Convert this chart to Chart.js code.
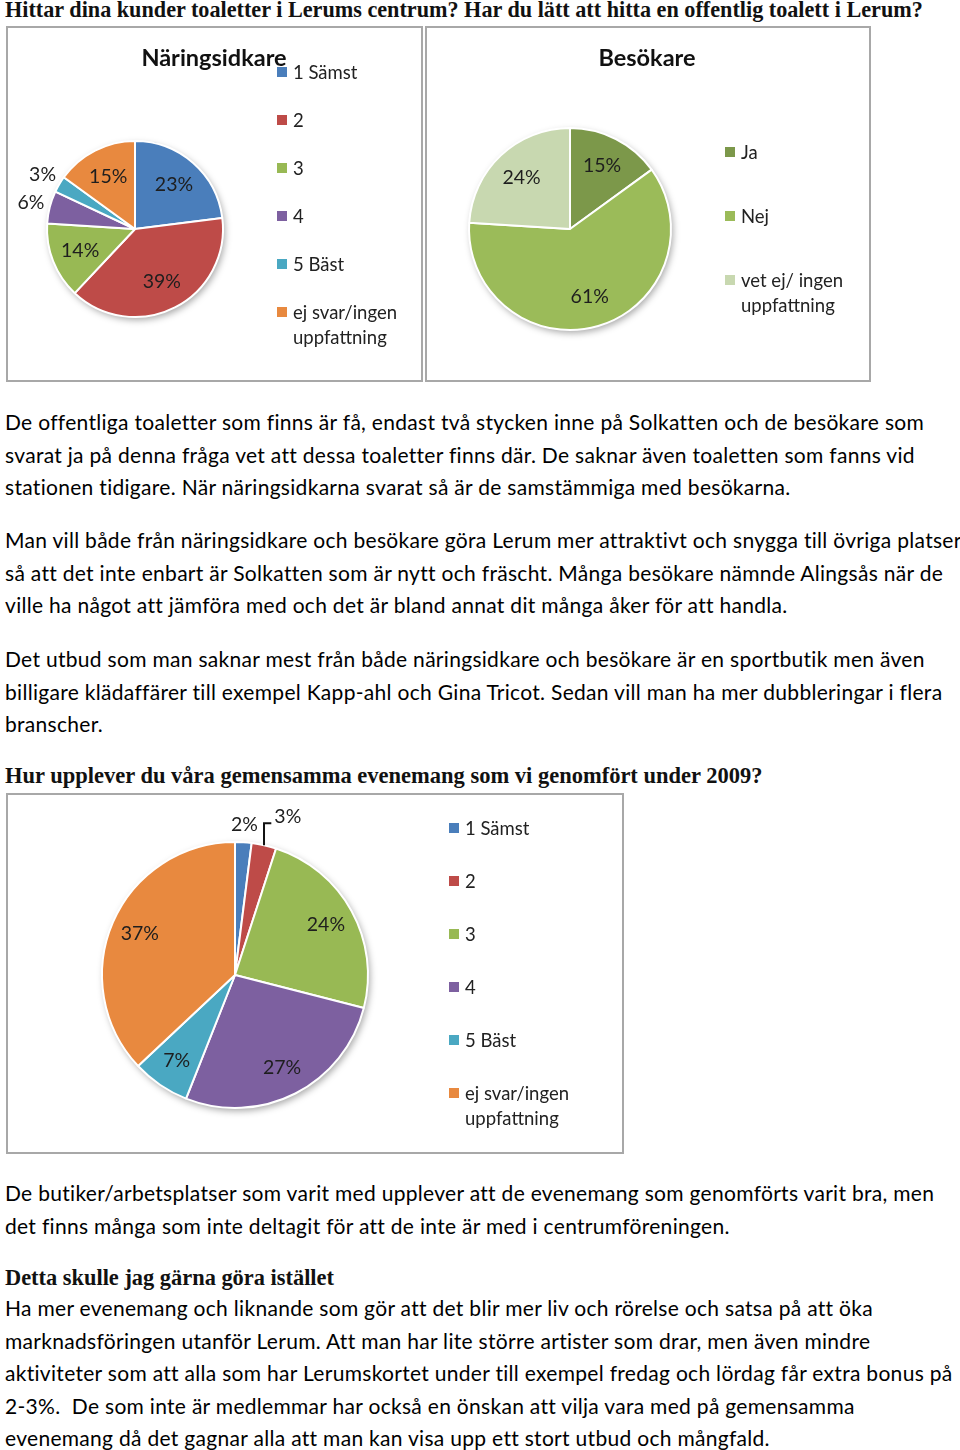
<!DOCTYPE html>
<html>
<head>
<meta charset="utf-8">
<script src="https://cdn.jsdelivr.net/npm/chart.js@4/dist/chart.umd.min.js"></script>
<style>
html,body{margin:0;padding:0;background:#fff;}
body{width:960px;height:1450px;position:relative;overflow:hidden;font-family:Lato,"Noto Sans",sans-serif;color:#000;}
.txt{position:absolute;left:5px;font-size:21px;letter-spacing:0.3px;line-height:32.5px;white-space:nowrap;}
.hd{position:absolute;left:5px;font-family:"Liberation Serif",serif;font-weight:bold;white-space:nowrap;color:#111;}
.box{position:absolute;border:2px solid #a8a8a8;box-sizing:border-box;background:#fff;}
.box canvas{position:absolute;left:0;top:0;}
.ttl{position:absolute;font-weight:bold;font-size:23.5px;color:#111;white-space:nowrap;transform:translateX(-50%);}
.lg{position:absolute;font-size:18.5px;line-height:25px;color:#222;white-space:pre-line;}
.lg i{position:absolute;width:10px;height:10px;left:-16px;top:7px;}
</style>
</head>
<body>

<div class="hd" style="top:-3px;font-size:22.2px;line-height:26px;">Hittar dina kunder toaletter i Lerums centrum? Har du lätt att hitta en offentlig toalett i Lerum?</div>

<div class="box" style="left:6px;top:26px;width:417px;height:356px;"><canvas id="c1"></canvas></div>
<div class="box" style="left:425px;top:26px;width:446px;height:356px;"><canvas id="c2"></canvas></div>
<div class="ttl" style="left:214px;top:43px;">Näringsidkare</div>
<div class="ttl" style="left:647px;top:43px;">Besökare</div>

<div class="txt" style="top:406px;">De offentliga toaletter som finns är få, endast två stycken inne på Solkatten och de besökare som<br>svarat ja på denna fråga vet att dessa toaletter finns där. De saknar även toaletten som fanns vid<br>stationen tidigare. När näringsidkarna svarat så är de samstämmiga med besökarna.</div>

<div class="txt" style="top:524px;">Man vill både från näringsidkare och besökare göra Lerum mer attraktivt och snygga till övriga platser<br>så att det inte enbart är Solkatten som är nytt och fräscht. Många besökare nämnde Alingsås när de<br>ville ha något att jämföra med och det är bland annat dit många åker för att handla.</div>

<div class="txt" style="top:643px;">Det utbud som man saknar mest från både näringsidkare och besökare är en sportbutik men även<br>billigare klädaffärer till exempel Kapp-ahl och Gina Tricot. Sedan vill man ha mer dubbleringar i flera<br>branscher.</div>

<div class="hd" style="top:761px;font-size:22.5px;line-height:30px;">Hur upplever du våra gemensamma evenemang som vi genomfört under 2009?</div>

<div class="box" style="left:6px;top:793px;width:618px;height:361px;"><canvas id="c3"></canvas></div>

<div class="txt" style="top:1177px;">De butiker/arbetsplatser som varit med upplever att de evenemang som genomförts varit bra, men<br>det finns många som inte deltagit för att de inte är med i centrumföreningen.</div>

<div class="hd" style="top:1263px;font-size:22.4px;line-height:30px;">Detta skulle jag gärna göra istället</div>

<div class="txt" style="top:1292px;">Ha mer evenemang och liknande som gör att det blir mer liv och rörelse och satsa på att öka<br>marknadsföringen utanför Lerum. Att man har lite större artister som drar, men även mindre<br>aktiviteter som att alla som har Lerumskortet under till exempel fredag och lördag får extra bonus på<br>2-3%.&nbsp; De som inte är medlemmar har också en önskan att vilja vara med på gemensamma<br>evenemang då det gagnar alla att man kan visa upp ett stort utbud och mångfald.</div>

<script>
// data
var gradeLabels = ['1 Sämst', '2', '3', '4', '5 Bäst', 'ej svar/ingen\nuppfattning'];
var gradeColors = ['#4A7EBB', '#BE4B48', '#98B954', '#7D60A0', '#4AA8C2', '#E8893F'];

var toalettNaring = [23, 39, 14, 6, 3, 15];

var visitLabels = ['Ja', 'Nej', 'vet ej/ ingen\nuppfattning'];
var visitColors = ['#7C984A', '#9BBB59', '#C8D8B0'];
var toalettBesok = [15, 61, 24];

var evenemang = [2, 3, 24, 27, 7, 37];

// labels inside/outside the pie, plus soft shadow under it
var pieDeco = {
  id: 'pieDeco',
  beforeDatasetsDraw: function(chart) {
    var a = chart.getDatasetMeta(0).data[0];
    if (!a) return;
    var ctx = chart.ctx;
    ctx.save();
    ctx.shadowColor = 'rgba(0,0,0,0.35)';
    ctx.shadowBlur = 7;
    ctx.shadowOffsetX = 2;
    ctx.shadowOffsetY = 3;
    ctx.fillStyle = '#fff';
    ctx.beginPath();
    ctx.arc(a.x, a.y, a.outerRadius, 0, Math.PI * 2);
    ctx.fill();
    ctx.restore();
  },
  afterDatasetsDraw: function(chart, args, o) {
    var ctx = chart.ctx;
    var ds = chart.data.datasets[0];
    ctx.save();
    ctx.font = '19.5px Lato, "Noto Sans", sans-serif';
    ctx.textAlign = 'center';
    ctx.textBaseline = 'middle';
    chart.getDatasetMeta(0).data.forEach(function(arc, i) {
      var v = ds.data[i];
      var mid = (arc.startAngle + arc.endAngle) / 2;
      var outside = v < o.outsideBelow;
      var f = outside ? o.outR : o.inR;
      var lx = arc.x + Math.cos(mid) * arc.outerRadius * f;
      var ly = arc.y + Math.sin(mid) * arc.outerRadius * f;
      var off = (o.shift && o.shift[i]) || null;
      var txt = v + '%';
      if (off) {
        var ax = arc.x + Math.cos(mid) * arc.outerRadius;
        var ay = arc.y + Math.sin(mid) * arc.outerRadius;
        lx += off[0]; ly += off[1];
        var w = ctx.measureText(txt).width;
        ctx.strokeStyle = '#111';
        ctx.lineWidth = 2;
        ctx.beginPath();
        ctx.moveTo(ax, ay);
        ctx.lineTo(ax, ly + 7);
        ctx.lineTo(lx - w / 2 - 3, ly + 7);
        ctx.stroke();
      }
      ctx.fillStyle = '#1e1e1e';
      ctx.fillText(txt, lx, ly);
    });
    ctx.restore();
  }
};

function makePie(id, w, h, cx, cy, r, values, colors, deco) {
  var cv = document.getElementById(id);
  cv.width = w; cv.height = h;
  cv.style.width = w + 'px'; cv.style.height = h + 'px';
  return new Chart(cv, {
    type: 'pie',
    data: {
      labels: values.map(function(_, i) { return i; }),
      datasets: [{
        data: values,
        backgroundColor: colors,
        borderColor: '#fff',
        borderWidth: 2
      }]
    },
    options: {
      responsive: false,
      animation: false,
      layout: { padding: { left: cx - r, top: cy - r, right: w - cx - r, bottom: h - cy - r } },
      plugins: { legend: { display: false }, tooltip: { enabled: false }, pieDeco: deco }
    },
    plugins: [pieDeco]
  });
}

function makeLegend(labels, colors, x, y, gap) {
  labels.forEach(function(l, i) {
    var d = document.createElement('div');
    d.className = 'lg';
    d.style.left = x + 'px';
    d.style.top = (y + i * gap - 12) + 'px';
    d.innerHTML = '<i style="background:' + colors[i] + '"></i>';
    d.appendChild(document.createTextNode(l));
    document.body.appendChild(d);
  });
}

makePie('c1', 413, 352, 127, 201, 89, toalettNaring, gradeColors, { outsideBelow: 10, inR: 0.67, outR: 1.22 });
makePie('c2', 442, 352, 143, 201, 102, toalettBesok, visitColors, { outsideBelow: 10, inR: 0.7, outR: 1.2 });
makePie('c3', 614, 357, 227, 180, 134, evenemang, gradeColors, { outsideBelow: 5, inR: 0.78, outR: 1.13, shift: { 1: [20, -12] } });

makeLegend(gradeLabels, gradeColors, 293, 72, 48);
makeLegend(visitLabels, visitColors, 741, 152, 64);
makeLegend(gradeLabels, gradeColors, 465, 828, 53);
</script>
</body>
</html>
